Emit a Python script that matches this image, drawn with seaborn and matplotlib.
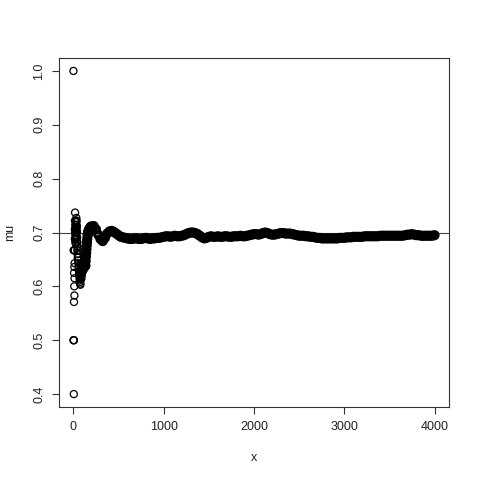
import numpy as np
import pandas as pd
import matplotlib
matplotlib.use("Agg")
import matplotlib.pyplot as plt
import seaborn as sns

# ---- data (running mean "mu" vs. sample index "x") ----
early_n = list(range(1, 31))
early_mu = [1.000, 0.500, 0.667, 0.500, 0.400, 0.500, 0.571, 0.625, 0.667, 0.600,
            0.636, 0.583, 0.615, 0.643, 0.667, 0.688, 0.706, 0.722, 0.737, 0.700,
            0.714, 0.682, 0.696, 0.708, 0.720, 0.692, 0.704, 0.679, 0.690, 0.700]

mid_n = [31, 32, 33, 34, 35, 36, 37, 38, 39, 40, 41, 42, 43, 44, 45, 46, 47, 48, 49, 50,
         52, 54, 56, 58, 60, 62, 64, 66, 68, 70, 72, 74, 76, 78, 80, 82, 84, 86, 88, 90,
         92, 94, 96, 98, 100, 103, 106, 109, 112, 115, 118, 121, 124, 127, 130, 133, 136,
         139, 142, 145, 148, 151, 154, 157, 160, 163, 166, 169, 172, 175, 178, 181, 184,
         187, 190, 193, 196]
mid_mu = [0.710, 0.719, 0.727, 0.706, 0.714, 0.722, 0.703, 0.711, 0.692, 0.700,
          0.683, 0.690, 0.674, 0.682, 0.667, 0.674, 0.660, 0.667, 0.653, 0.660,
          0.654, 0.648, 0.643, 0.638, 0.633, 0.629, 0.625, 0.621, 0.618, 0.614,
          0.611, 0.608, 0.605, 0.603, 0.613, 0.622, 0.619, 0.616, 0.614, 0.622,
          0.620, 0.628, 0.625, 0.633, 0.630, 0.631, 0.642, 0.642, 0.643, 0.643,
          0.644, 0.645, 0.637, 0.638, 0.638, 0.639, 0.647, 0.655, 0.662, 0.669,
          0.676, 0.682, 0.688, 0.694, 0.697, 0.699, 0.701, 0.703, 0.704, 0.705,
          0.706, 0.707, 0.708, 0.709, 0.710, 0.710, 0.711]

late_n = list(range(200, 4001, 25))
late_mu = [0.711, 0.712, 0.706, 0.696, 0.688, 0.684, 0.690, 0.698, 0.702, 0.703,
           0.701, 0.698, 0.695, 0.692, 0.691, 0.690, 0.689, 0.688, 0.688, 0.689,
           0.689, 0.688, 0.688, 0.689, 0.690, 0.689, 0.688, 0.689, 0.689, 0.690,
           0.690, 0.691, 0.692, 0.693, 0.693, 0.692, 0.693, 0.694, 0.693, 0.693,
           0.694, 0.695, 0.697, 0.699, 0.700, 0.700, 0.699, 0.697, 0.694, 0.691,
           0.689, 0.690, 0.692, 0.693, 0.692, 0.692, 0.693, 0.692, 0.692, 0.693,
           0.693, 0.692, 0.692, 0.693, 0.693, 0.693, 0.694, 0.693, 0.693, 0.694,
           0.695, 0.696, 0.697, 0.697, 0.696, 0.697, 0.699, 0.700, 0.699, 0.697,
           0.696, 0.696, 0.697, 0.698, 0.699, 0.699, 0.698, 0.698, 0.698, 0.697,
           0.696, 0.695, 0.694, 0.694, 0.694, 0.693, 0.693, 0.692, 0.692, 0.691,
           0.690, 0.690, 0.689, 0.689, 0.689, 0.689, 0.689, 0.689, 0.689, 0.689,
           0.690, 0.690, 0.690, 0.691, 0.691, 0.691, 0.692, 0.692, 0.692, 0.692,
           0.692, 0.693, 0.693, 0.693, 0.693, 0.693, 0.693, 0.693, 0.694, 0.694,
           0.694, 0.694, 0.694, 0.694, 0.694, 0.694, 0.694, 0.694, 0.694, 0.695,
           0.696, 0.696, 0.697, 0.696, 0.695, 0.695, 0.694, 0.694, 0.694, 0.694,
           0.694, 0.694, 0.695]

x_ticks = [0, 1000, 2000, 3000, 4000]
y_ticks = [0.4, 0.5, 0.6, 0.7, 0.8, 0.9, 1.0]
ref_line = 0.7

df_all = pd.DataFrame({"x": early_n + mid_n + late_n,
                       "mu": early_mu + mid_mu + late_mu})
# beyond ~100 samples the original's rings overlap into a solid band
df_sparse = df_all[df_all["x"] < 100]
df_dense = df_all[df_all["x"] >= 100]

sns.set_style("white")
plt.rcParams["font.family"] = ["Liberation Sans", "DejaVu Sans"]

fig = plt.figure(figsize=(4.8, 4.8), dpi=100)
ax = fig.add_axes([59 / 480, 1 - 407 / 480, 390 / 480, 349 / 480])

sns.scatterplot(data=df_dense, x="x", y="mu", ax=ax, marker="o", s=24,
                facecolors="none", edgecolor="black", linewidth=2.4,
                legend=False)
sns.scatterplot(data=df_sparse, x="x", y="mu", ax=ax, marker="o", s=26,
                facecolors="none", edgecolor="black", linewidth=0.9,
                legend=False)

ax.axhline(ref_line, color="#444444", lw=0.8, zorder=0)

xmin, xmax = df_all["x"].min(), df_all["x"].max()
ymin, ymax = df_all["mu"].min(), df_all["mu"].max()
dx, dy = (xmax - xmin) * 0.04, (ymax - ymin) * 0.04
ax.set_xlim(xmin - dx, xmax + dx)
ax.set_ylim(ymin - dy, ymax + dy)

ax.set_xticks(x_ticks)
ax.set_xticklabels([str(t) for t in x_ticks])
ax.set_yticks(y_ticks)
ax.set_yticklabels([f"{t:.1f}" for t in y_ticks], rotation=90, va="center")

ax.tick_params(axis="both", direction="out", length=5, width=0.8,
               color="#333333", labelsize=9, pad=5, labelcolor="#222222",
               bottom=True, left=True)

for sp in ax.spines.values():
    sp.set_visible(True)
    sp.set_color("#333333")
    sp.set_linewidth(0.8)

ax.set_xlabel("x", fontsize=9, labelpad=14, color="#222222")
ax.set_ylabel("mu", fontsize=9, labelpad=12, color="#222222")

fig.savefig("out.png", dpi=100)
